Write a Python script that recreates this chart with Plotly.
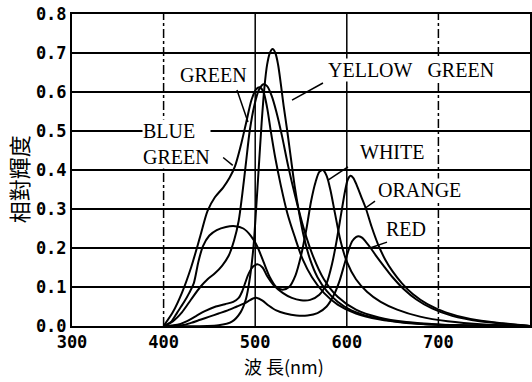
import plotly.graph_objects as go

# ---------------- data ----------------
BLUE_GREEN_WL = [400, 410, 420, 430, 440, 448, 456, 465, 472, 478, 484, 490, 496, 501, 505, 509, 513, 517, 522, 528, 535, 543, 552, 562, 575, 590, 610, 635, 665, 700, 750, 800]
BLUE_GREEN_V = [0, 0.035, 0.085, 0.15, 0.23, 0.295, 0.33, 0.355, 0.38, 0.41, 0.46, 0.52, 0.58, 0.607, 0.612, 0.60, 0.56, 0.50, 0.43, 0.36, 0.29, 0.23, 0.17, 0.125, 0.085, 0.055, 0.032, 0.017, 0.008, 0.003, 0.001, 0]

GREEN_WL = [400, 410, 420, 430, 440, 448, 456, 464, 471, 477, 482, 486, 490, 494, 499, 504, 509, 513, 518, 523, 529, 536, 544, 553, 563, 575, 590, 610, 635, 665, 700, 750, 800]
GREEN_V = [0, 0.012, 0.035, 0.068, 0.1, 0.12, 0.135, 0.155, 0.18, 0.22, 0.27, 0.34, 0.42, 0.50, 0.565, 0.605, 0.62, 0.615, 0.59, 0.55, 0.49, 0.41, 0.33, 0.25, 0.18, 0.12, 0.075, 0.042, 0.022, 0.01, 0.004, 0.001, 0]

YELLOW_GREEN_WL = [400, 460, 475, 484, 490, 494, 498, 501, 504, 507, 510, 513, 516, 519, 522, 525, 528, 531, 535, 539, 543, 548, 553, 560, 568, 578, 590, 605, 625, 650, 680, 720, 770, 800]
YELLOW_GREEN_V = [0, 0.002, 0.012, 0.035, 0.07, 0.12, 0.2, 0.3, 0.41, 0.52, 0.61, 0.67, 0.70, 0.71, 0.70, 0.67, 0.62, 0.565, 0.50, 0.43, 0.36, 0.29, 0.23, 0.17, 0.125, 0.09, 0.062, 0.04, 0.024, 0.013, 0.006, 0.002, 0.001, 0]

WHITE_WL = [400, 408, 415, 422, 428, 433, 438, 443, 450, 458, 468, 478, 487, 495, 502, 509, 516, 523, 530, 537, 544, 550, 556, 561, 566, 570, 574, 578, 582, 587, 593, 600, 610, 622, 637, 655, 680, 710, 750, 800]
WHITE_V = [0, 0.01, 0.035, 0.06, 0.085, 0.11, 0.165, 0.205, 0.232, 0.246, 0.254, 0.256, 0.25, 0.232, 0.205, 0.165, 0.125, 0.1, 0.093, 0.1, 0.13, 0.18, 0.25, 0.32, 0.37, 0.395, 0.40, 0.385, 0.35, 0.29, 0.22, 0.165, 0.12, 0.088, 0.062, 0.042, 0.024, 0.012, 0.004, 0]

ORANGE_WL = [400, 415, 425, 435, 445, 457, 467, 476, 482, 486, 489, 493, 498, 503, 508, 513, 520, 530, 540, 550, 560, 570, 578, 584, 589, 594, 598, 601, 604, 607, 611, 616, 621, 627, 634, 642, 650, 660, 672, 688, 708, 735, 770, 800]
ORANGE_V = [0, 0.003, 0.012, 0.025, 0.038, 0.05, 0.056, 0.062, 0.072, 0.09, 0.11, 0.135, 0.153, 0.158, 0.15, 0.128, 0.105, 0.085, 0.072, 0.066, 0.067, 0.08, 0.11, 0.16, 0.22, 0.29, 0.345, 0.375, 0.385, 0.38, 0.36, 0.33, 0.30, 0.255, 0.21, 0.17, 0.14, 0.11, 0.082, 0.056, 0.035, 0.018, 0.007, 0]

RED_WL = [400, 420, 430, 440, 450, 460, 470, 480, 490, 497, 502, 508, 515, 523, 533, 545, 557, 568, 578, 586, 592, 597, 602, 606, 610, 613, 617, 621, 626, 632, 640, 650, 662, 676, 693, 715, 745, 780, 800]
RED_V = [0, 0.002, 0.008, 0.016, 0.024, 0.032, 0.04, 0.05, 0.06, 0.07, 0.072, 0.065, 0.052, 0.04, 0.032, 0.027, 0.027, 0.033, 0.05, 0.08, 0.115, 0.155, 0.195, 0.218, 0.228, 0.23, 0.226, 0.215, 0.2, 0.18, 0.155, 0.125, 0.095, 0.068, 0.045, 0.026, 0.012, 0.004, 0]

X_TICKS = [300, 400, 500, 600, 700]
Y_TICKS = [0.0, 0.1, 0.2, 0.3, 0.4, 0.5, 0.6, 0.7, 0.8]
GRID_SOLID_X = [500, 600]
GRID_DASHDOT_X = [400, 700]

# label text, anchor position (wavelength, value), anchor side
LABELS = [
    ("GREEN", 454, 0.644, "center"),
    ("YELLOW&nbsp;&nbsp;&nbsp;GREEN", 670, 0.656, "center"),
    ("BLUE<br>GREEN", 376.5, 0.467, "left"),
    ("WHITE", 649, 0.446, "center"),
    ("ORANGE", 679, 0.349, "center"),
    ("RED", 664.5, 0.249, "center"),
]
# leader lines: (wl0, v0, wl1, v1)
LEADERS = [
    (480.1, 0.605, 492.1, 0.523),
    (574.0, 0.623, 540.2, 0.579),
    (465.0, 0.432, 475.5, 0.412),
    (601.3, 0.408, 579.5, 0.374),
    (630.8, 0.320, 618.8, 0.300),
    (643.9, 0.215, 625.3, 0.200),
]

SERIES = [
    ("BLUE GREEN", BLUE_GREEN_WL, BLUE_GREEN_V),
    ("GREEN", GREEN_WL, GREEN_V),
    ("YELLOW GREEN", YELLOW_GREEN_WL, YELLOW_GREEN_V),
    ("WHITE", WHITE_WL, WHITE_V),
    ("ORANGE", ORANGE_WL, ORANGE_V),
    ("RED", RED_WL, RED_V),
]

fig = go.Figure()
for name, wl, v in SERIES:
    fig.add_trace(go.Scatter(
        x=wl, y=v, mode="lines", name=name,
        line=dict(color="black", width=2, shape="spline", smoothing=0.8),
        showlegend=False,
    ))

shapes = []
for gx in GRID_SOLID_X:
    shapes.append(dict(type="line", xref="x", yref="paper", x0=gx, x1=gx, y0=0, y1=1,
                       line=dict(color="black", width=1.5), layer="below"))
for gx in GRID_DASHDOT_X:
    shapes.append(dict(type="line", xref="x", yref="paper", x0=gx, x1=gx, y0=0, y1=1,
                       line=dict(color="black", width=1.5, dash="dashdot"), layer="below"))
for (a, b, c, d) in LEADERS:
    shapes.append(dict(type="line", xref="x", yref="y", x0=a, y0=b, x1=c, y1=d,
                       line=dict(color="black", width=1.5), layer="above"))

annotations = []
for text, lx, ly, anchor in LABELS:
    annotations.append(dict(
        x=lx, y=ly, xref="x", yref="y", text=text, showarrow=False,
        xanchor=anchor, yanchor="middle", align="left",
        font=dict(family="Liberation Serif", size=20, color="black"),
        bgcolor="white", borderpad=0,
    ))
annotations.append(dict(
    x=-0.118, y=0.47, xref="paper", yref="paper", text="相對輝度", showarrow=False,
    textangle=-90, font=dict(family="Noto Sans CJK TC", size=22, color="black"),
    xanchor="center", yanchor="middle",
))
annotations.append(dict(
    x=0.462, y=-0.128, xref="paper", yref="paper", text="波 長(nm)", showarrow=False,
    font=dict(family="Noto Sans CJK TC", size=18, color="black"),
    xanchor="center", yanchor="middle",
))

fig.update_layout(
    width=532, height=382,
    margin=dict(l=72, r=2, t=14, b=56),
    paper_bgcolor="white", plot_bgcolor="white",
    shapes=shapes, annotations=annotations,
    xaxis=dict(range=[300, 800], tickvals=X_TICKS, ticktext=[str(t) for t in X_TICKS],
               showgrid=False, zeroline=False, showline=True, mirror=True,
               linecolor="black", linewidth=2, ticks="", automargin=False,
               tickfont=dict(family="DejaVu Sans Mono", size=17, color="black", weight="bold")),
    yaxis=dict(range=[0, 0.8], tickvals=Y_TICKS, tickformat=".1f",
               showgrid=True, gridcolor="black", gridwidth=1.5, zeroline=False,
               showline=True, mirror=True, linecolor="black", linewidth=2, ticks="",
               automargin=False,
               tickfont=dict(family="DejaVu Sans Mono", size=17, color="black", weight="bold")),
)

fig.write_html(
    "out.html",
    config={"displayModeBar": False},
    post_script="document.body.style.margin='0';document.body.style.overflow='hidden';",
)
